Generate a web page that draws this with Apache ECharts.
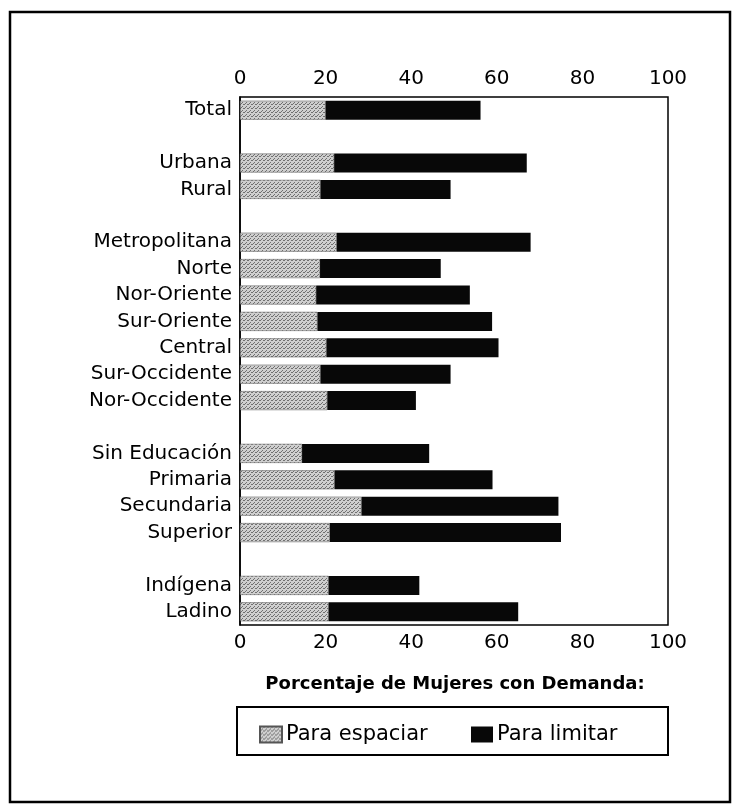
<!DOCTYPE html>
<html lang="es">
<head>
    <meta charset="UTF-8">
    <title>Demanda</title>
    <script type="text/javascript" src="https://cdn.jsdelivr.net/npm/echarts@6/dist/echarts.min.js"></script>
    <style>
        body { margin: 0; background: #fff; }
    </style>
</head>
<body>
<div id="main" style="width: 733px;height: 807px"></div>
</body>
<script>
    // datos (porcentajes)
    var categorias = ["Total", " ", "Urbana", "Rural", "  ", "Metropolitana", "Norte", "Nor-Oriente",
        "Sur-Oriente", "Central", "Sur-Occidente", "Nor-Occidente", "   ", "Sin Educación", "Primaria",
        "Secundaria", "Superior", "    ", "Indígena", "Ladino"]
    var espaciar = [20, null, 22, 18.8, null, 22.6, 18.7, 17.8, 18.1, 20.2, 18.8, 20.4, null,
        14.5, 22.1, 28.4, 21, null, 20.7, 20.7]
    var limitar = [36.2, null, 45, 30.4, null, 45.3, 28.2, 35.9, 40.8, 40.2, 30.4, 20.7, null,
        29.7, 36.9, 46, 54, null, 21.2, 44.3]
    var ticks = [0, 20, 40, 60, 80, 100]

    // trama gris punteada
    var pat = document.createElement("canvas")
    pat.width = 4; pat.height = 4
    var pc = pat.getContext("2d")
    pc.fillStyle = "#cfcfcf"
    pc.fillRect(0, 0, 4, 4)
    pc.fillStyle = "#707070"
    pc.fillRect(0, 0, 1, 1); pc.fillRect(2, 2, 1, 1); pc.fillRect(3, 0, 1, 1); pc.fillRect(1, 3, 1, 1)

    var fuente = "DejaVu Sans"
    var myChart = echarts.init(document.getElementById("main"))
    var eje = {
        type: "value", min: ticks[0], max: ticks[ticks.length - 1], interval: 20,
        axisLine: {show: false}, axisTick: {show: false}, splitLine: {show: false},
        axisLabel: {color: "#000", fontFamily: fuente, fontSize: 20, margin: 8}
    }
    var leyenda = {
        top: 719, itemWidth: 22, itemHeight: 16, icon: "rect",
        textStyle: {color: "#000", fontFamily: fuente, fontSize: 21, padding: [0, 0, 0, -1]}
    }
    myChart.setOption({
        animation: false,
        backgroundColor: "#fff",
        grid: {left: 240, right: 65, top: 97, bottom: 182, show: true,
            borderColor: "#000", borderWidth: 1.5, backgroundColor: "transparent"},
        legend: [
            Object.assign({data: ["Para espaciar"], left: 254}, leyenda),
            Object.assign({data: ["Para limitar"], left: 466}, leyenda)
        ],
        xAxis: [
            Object.assign({position: "top"}, eje),
            Object.assign({position: "bottom"}, eje)
        ],
        yAxis: {
            type: "category", data: categorias, inverse: true,
            axisLine: {show: true, lineStyle: {color: "#000", width: 1.5}},
            axisTick: {show: false},
            axisLabel: {color: "#000", fontFamily: fuente, fontSize: 20, margin: 8}
        },
        graphic: [
            {type: "rect", shape: {x: 10, y: 12, width: 720, height: 790},
                style: {fill: "none", stroke: "#000", lineWidth: 2.5}},
            {type: "rect", shape: {x: 237, y: 707, width: 431, height: 48},
                style: {fill: "none", stroke: "#000", lineWidth: 2}},
            {type: "text", x: 455, y: 684, style: {text: "Porcentaje de Mujeres con Demanda:",
                    fill: "#000", font: "bold 18px DejaVu Sans", align: "center", verticalAlign: "middle"}}
        ],
        series: [
            {name: "Para espaciar", type: "bar", stack: "t", barWidth: 19, xAxisIndex: 0,
                itemStyle: {color: {image: pat, repeat: "repeat"}, borderColor: "#555", borderWidth: 0.5},
                data: espaciar},
            {name: "Para limitar", type: "bar", stack: "t", barWidth: 19, xAxisIndex: 0,
                itemStyle: {color: "#080808"},
                data: limitar}
        ]
    })
</script>
</html>
